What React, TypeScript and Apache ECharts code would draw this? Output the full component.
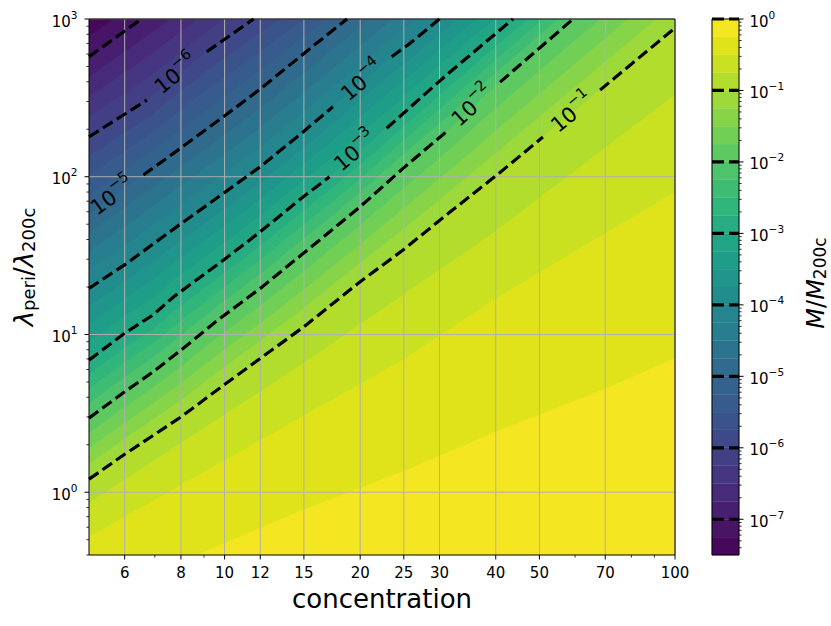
import React, { useEffect, useRef } from 'react';
import * as echarts from 'echarts';

const FONT = "'DejaVu Sans', Verdana, sans-serif";

// ---- axis ranges and ticks ----
const C_MIN = 5;
const C_MAX = 100;
const LAMBDA_MIN = 0.4;
const LAMBDA_MAX = 1000;

const X_TICKS = [6, 8, 10, 12, 15, 20, 25, 30, 40, 50, 70, 100];
const X_MINOR_TICKS = [7, 9, 60, 80, 90];
const Y_TICK_EXPONENTS = [0, 1, 2, 3];

const CB_LOW_EXP = -7.5;
const CB_HIGH_EXP = 0;
const CB_STEP = 0.25;
const CB_TICK_EXPONENTS = [0, -1, -2, -3, -4, -5, -6, -7];
const CB_LINE_EXPONENTS = [0, -1, -2, -3, -4, -5, -6, -7];

// ---- contour lines of M/M200c: [concentration, lambda_peri/lambda_200c], null = gap under label ----
type Pt = [number, number] | null;
const LINE_E7: Pt[] = [[5, 577], [6.54, 1000]];
const LINE_E6: Pt[] = [[5, 179], [6.72, 306], null, [9.13, 620], [11.6, 1000]];
const LINE_E5: Pt[] = [[5, 58], null, [6.6, 102.5], [7.7, 140.7], [9.94, 240], [12, 360], [16, 701], [18.7, 1000]];
const LINE_E4: Pt[] = [[5, 19.6], [6.06, 28.2], [7.56, 44.8], [9.94, 78.5], [12, 115.7], [14.96, 193], [17.4, 278], null, [23.5, 577], [25.8, 701], [30, 1000]];
const LINE_E3: Pt[] = [[5, 6.88], [6, 10.2], [6.94, 13.3], [7.7, 17.3], [9.94, 29.6], [12, 44.8], [14.96, 74.7], [17.1, 100], null, [22.9, 203], [31.1, 442], [43.7, 1000]];
const LINE_E2: Pt[] = [[5, 2.95], [6, 4.33], [6.94, 5.8], [8, 7.96], [9.77, 12.65], [12, 19.6], [14.96, 32.7], [20, 64.5], [24.9, 113], [31.4, 198], null, [40.9, 398], [59.4, 1000]];
const LINE_E1: Pt[] = [[5, 1.21], [6, 1.74], [8, 3.0], [10, 4.82], [12, 7.05], [15, 11.2], [20, 21.6], [24.9, 34.3], [31.4, 58.6], [40.3, 103], [50.9, 178.6], null, [68.2, 355], [100, 877]];
// filled-level edges between 10^-1 and 10^0 (no dashed line)
const EDGE_E075: Pt[] = [[5, 0.853], [15, 6.6], [38.9, 42.6], [100, 330]];
const EDGE_E050: Pt[] = [[5, 0.52], [15, 3.05], [24.5, 6.71], [39.5, 16.5], [100, 80]];
const EDGE_E025: Pt[] = [[5, 0.204], [8.7, 0.4], [14.9, 0.77], [24.9, 1.35], [40.1, 2.42], [70.5, 4.55], [100, 7.05]];

const CONTOURS = [
  { exp: -7, pts: LINE_E7 },
  { exp: -6, pts: LINE_E6 },
  { exp: -5, pts: LINE_E5 },
  { exp: -4, pts: LINE_E4 },
  { exp: -3, pts: LINE_E3 },
  { exp: -2, pts: LINE_E2 },
  { exp: -1, pts: LINE_E1 },
];
const FILL_EDGES = [
  ...CONTOURS,
  { exp: -0.75, pts: EDGE_E075 },
  { exp: -0.5, pts: EDGE_E050 },
  { exp: -0.25, pts: EDGE_E025 },
].map((e) => ({
  exp: e.exp,
  logPts: e.pts.filter((p) => p !== null).map((p: any) => [Math.log10(p[0]), Math.log10(p[1])]),
}));

const LABEL_EXPONENTS = [-6, -5, -4, -3, -2, -1];
const LABEL_POSITIONS: [number, number][] = [[7.72, 464], [5.58, 78.5], [20, 421], [19.3, 151], [35.1, 292], [58.5, 265]];

// ---- colours ----
const VIRIDIS = ['#440154', '#471365', '#482475', '#463480', '#414487', '#3b528b', '#355f8d', '#306a8e', '#2a788e', '#25848e', '#21918c', '#1e9c89', '#22a884', '#2fb47c', '#44bf70', '#5ec962', '#7ad151', '#9bd93c', '#bddf26', '#dfe318', '#fde725'];
function hexRgb(h: string) {
  return [1, 3, 5].map((i) => parseInt(h.slice(i, i + 2), 16));
}
function viridis(t: number) {
  const s = Math.max(0, Math.min(1, t)) * (VIRIDIS.length - 1);
  const i = Math.min(VIRIDIS.length - 2, Math.floor(s));
  const f = s - i;
  const a = hexRgb(VIRIDIS[i]);
  const b = hexRgb(VIRIDIS[i + 1]);
  const c = a.map((v, j) => Math.round(v + (b[j] - v) * f));
  return `rgb(${c[0]},${c[1]},${c[2]})`;
}
const NB = Math.round((CB_HIGH_EXP - CB_LOW_EXP) / CB_STEP);
const bandColor = (k: number) => viridis((k + 0.571) / NB);

// ---- level geometry ----
function logLambdaOn(p: number[][], lc: number) {
  let i = 0;
  while (i < p.length - 2 && lc > p[i + 1][0]) i++;
  const [x0, y0] = p[i];
  const [x1, y1] = p[i + 1];
  return y0 + ((y1 - y0) * (lc - x0)) / (x1 - x0);
}
function boundaryLogLambda(exp: number, lc: number) {
  let a = 0;
  while (a < FILL_EDGES.length - 2 && FILL_EDGES[a + 1].exp <= exp) a++;
  const A = FILL_EDGES[a];
  const B = FILL_EDGES[a + 1];
  const ya = logLambdaOn(A.logPts, lc);
  const yb = logLambdaOn(B.logPts, lc);
  return ya + ((exp - A.exp) / (B.exp - A.exp)) * (yb - ya);
}

const expText = (e: number) => (e < 0 ? '\u2212' + -e : String(e));
const pow10 = (e: number) => `{b|10}{s|${expText(e)}}`;
const richPow = (fs: number) => ({
  b: { fontSize: fs, fontFamily: FONT, fill: '#000', lineHeight: Math.round(fs * 1.33), verticalAlign: 'bottom' },
  s: { fontSize: fs * 0.7, fontFamily: FONT, fill: '#000', lineHeight: Math.round(fs * 0.87), verticalAlign: 'top' },
});
const RICH_TICK = richPow(15);
const RICH_LABEL = richPow(21);

function splitSegments(pts: Pt[]) {
  const segs: number[][][] = [];
  let cur: number[][] = [];
  pts.forEach((p) => {
    if (p === null) {
      if (cur.length > 1) segs.push(cur);
      cur = [];
    } else cur.push(p);
  });
  if (cur.length > 1) segs.push(cur);
  return segs;
}

function gapAngle(api: any, pts: Pt[]) {
  const gi = pts.indexOf(null);
  const p1 = api.coord(pts[gi - 1]);
  const p2 = api.coord(pts[gi + 1]);
  return Math.atan2(p1[1] - p2[1], p2[0] - p1[0]);
}

function buildOption() {
  const N = 200;
  const lcMin = Math.log10(C_MIN);
  const lcMax = Math.log10(C_MAX);
  const series: any[] = [];

  // filled contour bands
  series.push({
    type: 'custom',
    xAxisIndex: 0,
    yAxisIndex: 0,
    clip: true,
    z: 1,
    silent: true,
    encode: { x: 0, y: 1 },
    data: Array.from({ length: NB }, (_, k) => [C_MIN, LAMBDA_MIN, k]),
    renderItem: (params: any, api: any) => {
      const k = api.value(2);
      const color = bandColor(k);
      if (k === 0) {
        const tl = api.coord([C_MIN, LAMBDA_MAX]);
        const br = api.coord([C_MAX, LAMBDA_MIN]);
        return { type: 'rect', shape: { x: tl[0], y: tl[1], width: br[0] - tl[0], height: br[1] - tl[1] }, style: { fill: color } };
      }
      const exp = CB_LOW_EXP + CB_STEP * k;
      const pts: number[][] = [];
      for (let i = 0; i <= N; i++) {
        const lc = lcMin + ((lcMax - lcMin) * i) / N;
        pts.push(api.coord([Math.pow(10, lc), Math.pow(10, boundaryLogLambda(exp, lc))]));
      }
      pts.push(api.coord([C_MAX, 1e-4]));
      pts.push(api.coord([C_MIN, 1e-4]));
      return { type: 'polygon', shape: { points: pts }, style: { fill: color, stroke: color, lineWidth: 0.6 } };
    },
  });

  // grid lines
  series.push({
    type: 'custom',
    xAxisIndex: 0,
    yAxisIndex: 0,
    clip: false,
    z: 2,
    silent: true,
    encode: { x: 0, y: 1 },
    data: [...X_TICKS.map((c) => [c, LAMBDA_MIN, 0]), ...Y_TICK_EXPONENTS.map((e) => [C_MIN, Math.pow(10, e), 1])],
    renderItem: (params: any, api: any) => {
      const horiz = api.value(2) === 1;
      const a = horiz ? api.coord([C_MIN, api.value(1)]) : api.coord([api.value(0), LAMBDA_MIN]);
      const b = horiz ? api.coord([C_MAX, api.value(1)]) : api.coord([api.value(0), LAMBDA_MAX]);
      return { type: 'line', shape: { x1: a[0], y1: a[1], x2: b[0], y2: b[1] }, style: { stroke: '#b0b0b0', lineWidth: 1 } };
    },
  });

  // dashed contour lines
  CONTOURS.forEach(({ pts }) => {
    splitSegments(pts).forEach((seg) => {
      series.push({
        type: 'line',
        xAxisIndex: 0,
        yAxisIndex: 0,
        data: seg,
        showSymbol: false,
        symbol: 'none',
        clip: true,
        z: 3,
        silent: true,
        lineStyle: { color: '#000', width: 3.2, type: [11.5, 5], cap: 'butt' },
      });
    });
  });

  // contour labels
  series.push({
    type: 'custom',
    xAxisIndex: 0,
    yAxisIndex: 0,
    clip: false,
    z: 4,
    silent: true,
    encode: { x: 0, y: 1 },
    data: LABEL_POSITIONS.map((p, i) => [p[0], p[1], i]),
    renderItem: (params: any, api: any) => {
      const i = api.value(2);
      const exp = LABEL_EXPONENTS[i];
      const line = CONTOURS.find((c) => c.exp === exp)!.pts;
      const [x, y] = api.coord([api.value(0), api.value(1)]);
      return {
        type: 'group',
        children: [
          {
            type: 'text',
            x,
            y,
            rotation: gapAngle(api, line),
            style: { text: pow10(exp), rich: RICH_LABEL, fontSize: 21, fontFamily: FONT, fill: '#000', align: 'center', verticalAlign: 'middle' },
          },
        ],
      };
    },
  });

  // frame
  series.push({
    type: 'custom',
    xAxisIndex: 0,
    yAxisIndex: 0,
    clip: false,
    z: 6,
    silent: true,
    encode: { x: 0, y: 1 },
    data: [[C_MIN, LAMBDA_MIN]],
    renderItem: (params: any, api: any) => {
      const tl = api.coord([C_MIN, LAMBDA_MAX]);
      const br = api.coord([C_MAX, LAMBDA_MIN]);
      return { type: 'rect', shape: { x: tl[0], y: tl[1], width: br[0] - tl[0], height: br[1] - tl[1] }, style: { fill: 'none', stroke: '#000', lineWidth: 1 } };
    },
  });

  // x ticks
  series.push({
    type: 'custom',
    xAxisIndex: 0,
    yAxisIndex: 0,
    clip: false,
    z: 6,
    silent: true,
    encode: { x: 0, y: 1 },
    data: [...X_TICKS.map((c) => [c, LAMBDA_MIN, 1]), ...X_MINOR_TICKS.map((c) => [c, LAMBDA_MIN, 0])],
    renderItem: (params: any, api: any) => {
      const c = api.value(0);
      const major = api.value(2) === 1;
      const [x, y] = api.coord([c, LAMBDA_MIN]);
      const children: any[] = [
        { type: 'line', shape: { x1: x, y1: y, x2: x, y2: y + (major ? 4.5 : 2.6) }, style: { stroke: '#000', lineWidth: major ? 1 : 0.8 } },
      ];
      if (major)
        children.push({
          type: 'text',
          x,
          y: y + 18,
          style: { text: String(c), align: 'center', verticalAlign: 'middle', fontSize: 15, fontFamily: FONT, fill: '#000' },
        });
      return { type: 'group', children };
    },
  });

  // y ticks
  const yMinor: number[] = [];
  for (let e = -1; e <= 2; e++) for (let m = 2; m <= 9; m++) {
    const v = m * Math.pow(10, e);
    if (v >= LAMBDA_MIN && v <= LAMBDA_MAX) yMinor.push(v);
  }
  series.push({
    type: 'custom',
    xAxisIndex: 0,
    yAxisIndex: 0,
    clip: false,
    z: 6,
    silent: true,
    encode: { x: 0, y: 1 },
    data: [...Y_TICK_EXPONENTS.map((e) => [C_MIN, Math.pow(10, e), 1, e]), ...yMinor.map((v) => [C_MIN, v, 0, 0])],
    renderItem: (params: any, api: any) => {
      const major = api.value(2) === 1;
      const [x, y] = api.coord([C_MIN, api.value(1)]);
      const children: any[] = [
        { type: 'line', shape: { x1: x, y1: y, x2: x - (major ? 4.5 : 2.6), y2: y }, style: { stroke: '#000', lineWidth: major ? 1 : 0.8 } },
      ];
      if (major)
        children.push({
          type: 'text',
          x: x - 11.5,
          y,
          style: { text: pow10(api.value(3)), rich: RICH_TICK, fontSize: 15, fontFamily: FONT, fill: '#000', align: 'right', verticalAlign: 'middle' },
        });
      return { type: 'group', children };
    },
  });

  // ---- colorbar ----
  series.push({
    type: 'custom',
    xAxisIndex: 1,
    yAxisIndex: 1,
    clip: false,
    z: 1,
    silent: true,
    encode: { x: 0, y: 1 },
    data: Array.from({ length: NB }, (_, k) => [0, CB_LOW_EXP + CB_STEP * k, k]),
    renderItem: (params: any, api: any) => {
      const k = api.value(2);
      const lo = api.coord([0, api.value(1)]);
      const hi = api.coord([1, api.value(1) + CB_STEP]);
      return { type: 'rect', shape: { x: lo[0], y: hi[1], width: hi[0] - lo[0], height: lo[1] - hi[1] }, style: { fill: bandColor(k), stroke: bandColor(k), lineWidth: 0.3 } };
    },
  });
  series.push({
    type: 'custom',
    xAxisIndex: 1,
    yAxisIndex: 1,
    clip: false,
    z: 3,
    silent: true,
    encode: { x: 0, y: 1 },
    data: CB_LINE_EXPONENTS.map((e) => [0, e]),
    renderItem: (params: any, api: any) => {
      const a = api.coord([0, api.value(1)]);
      const b = api.coord([1, api.value(1)]);
      return { type: 'line', shape: { x1: a[0], y1: a[1], x2: b[0], y2: b[1] }, style: { stroke: '#000', lineWidth: 3.2, lineDash: [12, 5] } };
    },
  });
  const cbMinor: number[] = [];
  for (let e = -8; e <= -1; e++) for (let m = 2; m <= 9; m++) {
    const v = e + Math.log10(m);
    if (v >= CB_LOW_EXP && v <= CB_HIGH_EXP) cbMinor.push(v);
  }
  series.push({
    type: 'custom',
    xAxisIndex: 1,
    yAxisIndex: 1,
    clip: false,
    z: 6,
    silent: true,
    encode: { x: 0, y: 1 },
    data: [...CB_TICK_EXPONENTS.map((e) => [1, e, 1]), ...cbMinor.map((v) => [1, v, 0])],
    renderItem: (params: any, api: any) => {
      const major = api.value(2) === 1;
      const [x, y] = api.coord([1, api.value(1)]);
      const children: any[] = [
        { type: 'line', shape: { x1: x, y1: y, x2: x + (major ? 4.5 : 2.6), y2: y }, style: { stroke: '#000', lineWidth: major ? 1 : 0.8 } },
      ];
      if (major)
        children.push({
          type: 'text',
          x: x + 10.5,
          y,
          style: { text: pow10(api.value(1)), rich: RICH_TICK, fontSize: 15, fontFamily: FONT, fill: '#000', align: 'left', verticalAlign: 'middle' },
        });
      return { type: 'group', children };
    },
  });
  series.push({
    type: 'custom',
    xAxisIndex: 1,
    yAxisIndex: 1,
    clip: false,
    z: 6,
    silent: true,
    encode: { x: 0, y: 1 },
    data: [[0, CB_LOW_EXP]],
    renderItem: (params: any, api: any) => {
      const tl = api.coord([0, CB_HIGH_EXP]);
      const br = api.coord([1, CB_LOW_EXP]);
      return { type: 'rect', shape: { x: tl[0], y: tl[1], width: br[0] - tl[0], height: br[1] - tl[1] }, style: { fill: 'none', stroke: '#000', lineWidth: 1 } };
    },
  });

  return {
    animation: false,
    backgroundColor: '#fff',
    grid: [
      { left: 89, top: 19, width: 586, height: 536, show: false },
      { left: 712, top: 19, width: 27, height: 536, show: false },
    ],
    xAxis: [
      { type: 'log', logBase: 10, min: C_MIN, max: C_MAX, gridIndex: 0, show: false },
      { type: 'value', min: 0, max: 1, gridIndex: 1, show: false },
    ],
    yAxis: [
      { type: 'log', logBase: 10, min: LAMBDA_MIN, max: LAMBDA_MAX, gridIndex: 0, show: false },
      { type: 'value', min: CB_LOW_EXP, max: CB_HIGH_EXP, gridIndex: 1, show: false },
    ],
    graphic: [
      {
        type: 'text',
        x: 382,
        y: 599,
        style: { text: 'concentration', fontSize: 26, fontFamily: FONT, fill: '#000', align: 'center', verticalAlign: 'middle' },
      },
      {
        type: 'text',
        x: 20,
        y: 267,
        rotation: Math.PI / 2,
        style: {
          text: '{li|\u03bb}{d|peri}{m|/}{li|\u03bb}{d|200c}',
          align: 'center',
          verticalAlign: 'middle',
          rich: {
            li: { fontSize: 26, fontStyle: 'italic', fontFamily: FONT, fill: '#000', lineHeight: 34, verticalAlign: 'bottom' },
            m: { fontSize: 26, fontFamily: FONT, fill: '#000', lineHeight: 34, verticalAlign: 'bottom' },
            d: { fontSize: 18, fontFamily: FONT, fill: '#000', lineHeight: 18, verticalAlign: 'bottom' },
          },
        },
      },
      {
        type: 'text',
        x: 812,
        y: 283,
        rotation: Math.PI / 2,
        style: {
          text: '{mi|M}{m|/}{mi|M}{d|200c}',
          align: 'center',
          verticalAlign: 'middle',
          rich: {
            mi: { fontSize: 24, fontStyle: 'italic', fontFamily: FONT, fill: '#000', lineHeight: 32, verticalAlign: 'bottom' },
            m: { fontSize: 24, fontFamily: FONT, fill: '#000', lineHeight: 32, verticalAlign: 'bottom' },
            d: { fontSize: 17, fontFamily: FONT, fill: '#000', lineHeight: 17, verticalAlign: 'bottom' },
          },
        },
      },
    ],
    series,
  };
}

export default function App() {
  const ref = useRef<HTMLDivElement>(null);
  useEffect(() => {
    document.body.style.margin = '0';
    const chart = echarts.init(ref.current!, undefined, { renderer: 'svg' });
    chart.setOption(buildOption() as any);
    return () => chart.dispose();
  }, []);
  return <div ref={ref} style={{ position: 'absolute', left: 0, top: 0, width: 831, height: 626, background: '#fff' }} />;
}
